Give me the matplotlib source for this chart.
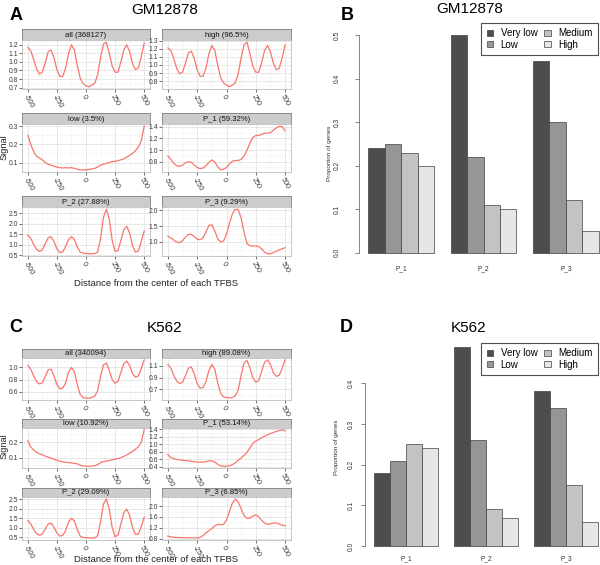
import numpy as np
import matplotlib
matplotlib.use('Agg')
import matplotlib.pyplot as plt
from matplotlib.patches import Patch
from matplotlib.ticker import FormatStrFormatter

plt.rcParams['font.family'] = ['Liberation Sans', 'DejaVu Sans']
plt.rcParams['axes.unicode_minus'] = False

# ---------------- data ----------------
positions = [-500, -475, -450, -425, -400, -375, -350, -325, -300, -275, -250,
             -225, -200, -175, -150, -125, -100, -75, -50, -25, 0,
             25, 50, 75, 100, 125, 150, 175, 200, 225, 250,
             275, 300, 325, 350, 375, 400, 425, 450, 475, 500]
x_tick_values = [-500, -250, 0, 250, 500]

gm_all = [1.17, 1.13, 1.03, 0.92, 0.86, 0.88, 0.99, 1.12, 1.14, 1.05, 0.91,
          0.83, 0.83, 0.93, 1.10, 1.20, 1.14, 0.96, 0.81, 0.75, 0.72,
          0.71, 0.73, 0.75, 0.85, 1.05, 1.21, 1.23, 1.10, 0.95, 0.88,
          0.88, 1.00, 1.14, 1.20, 1.12, 0.98, 0.91, 0.93, 1.06, 1.22]
gm_high = [1.21, 1.18, 1.08, 0.96, 0.89, 0.91, 1.02, 1.15, 1.17, 1.08, 0.94,
           0.86, 0.86, 0.96, 1.14, 1.24, 1.18, 1.00, 0.84, 0.78, 0.75,
           0.73, 0.75, 0.78, 0.89, 1.09, 1.25, 1.28, 1.14, 0.98, 0.91,
           0.91, 1.03, 1.18, 1.24, 1.16, 1.02, 0.94, 0.96, 1.09, 1.25]
gm_low = [0.25, 0.20, 0.16, 0.135, 0.125, 0.115, 0.10, 0.09, 0.085, 0.08, 0.075,
          0.072, 0.07, 0.072, 0.07, 0.072, 0.068, 0.063, 0.06, 0.06, 0.06,
          0.062, 0.065, 0.068, 0.075, 0.085, 0.092, 0.095, 0.10, 0.105, 0.107,
          0.11, 0.115, 0.12, 0.13, 0.14, 0.15, 0.165, 0.185, 0.22, 0.30]
gm_p1 = [0.90, 0.84, 0.77, 0.73, 0.72, 0.74, 0.78, 0.80, 0.79, 0.74, 0.70,
         0.68, 0.69, 0.73, 0.79, 0.83, 0.80, 0.71, 0.66, 0.67, 0.70,
         0.76, 0.81, 0.82, 0.82, 0.84, 0.90, 1.00, 1.12, 1.22, 1.25,
         1.25, 1.27, 1.29, 1.29, 1.30, 1.34, 1.38, 1.41, 1.40, 1.33]
gm_p2 = [1.45, 1.30, 1.02, 0.78, 0.68, 0.75, 1.05, 1.33, 1.38, 1.15, 0.80,
         0.63, 0.66, 0.92, 1.25, 1.38, 1.25, 0.90, 0.65, 0.60, 0.58,
         0.57, 0.57, 0.58, 0.65, 1.30, 2.30, 2.68, 2.20, 1.20, 0.68,
         0.72, 1.20, 1.70, 1.88, 1.55, 0.95, 0.65, 0.70, 1.15, 1.65]
gm_p3 = [1.18, 1.13, 1.06, 1.00, 0.98, 1.04, 1.15, 1.24, 1.24, 1.17, 1.09,
         1.07, 1.13, 1.32, 1.52, 1.54, 1.35, 1.10, 1.00, 1.03, 1.25,
         1.58, 1.88, 2.03, 2.02, 1.75, 1.30, 0.95, 0.88, 0.87, 0.88,
         0.86, 0.78, 0.68, 0.63, 0.63, 0.67, 0.71, 0.75, 0.79, 0.82]

k_all = [1.03, 0.97, 0.86, 0.77, 0.73, 0.75, 0.85, 0.96, 0.97, 0.86, 0.72,
         0.65, 0.66, 0.75, 0.92, 1.00, 0.93, 0.72, 0.56, 0.51, 0.50,
         0.50, 0.51, 0.53, 0.62, 0.85, 1.04, 1.07, 0.95, 0.80, 0.74,
         0.77, 0.92, 1.06, 1.10, 1.03, 0.90, 0.84, 0.86, 0.98, 1.12]
k_high = [1.12, 1.06, 0.94, 0.84, 0.80, 0.82, 0.93, 1.06, 1.08, 0.96, 0.80,
          0.72, 0.73, 0.83, 1.02, 1.12, 1.04, 0.81, 0.63, 0.57, 0.56,
          0.55, 0.56, 0.59, 0.69, 0.94, 1.15, 1.19, 1.06, 0.89, 0.82,
          0.85, 1.01, 1.16, 1.20, 1.12, 0.98, 0.92, 0.94, 1.06, 1.20]
k_low = [0.21, 0.17, 0.15, 0.135, 0.125, 0.118, 0.11, 0.103, 0.097, 0.09, 0.083,
         0.077, 0.073, 0.07, 0.068, 0.066, 0.064, 0.06, 0.052, 0.046, 0.045,
         0.045, 0.046, 0.048, 0.055, 0.068, 0.075, 0.078, 0.082, 0.086, 0.09,
         0.095, 0.10, 0.108, 0.118, 0.13, 0.14, 0.155, 0.17, 0.20, 0.28]
k_p1 = [0.72, 0.64, 0.61, 0.59, 0.58, 0.57, 0.56, 0.55, 0.54, 0.53, 0.52,
        0.52, 0.52, 0.53, 0.55, 0.55, 0.52, 0.46, 0.42, 0.41, 0.41,
        0.42, 0.45, 0.50, 0.57, 0.63, 0.70, 0.78, 0.90, 1.02, 1.08,
        1.12, 1.17, 1.21, 1.25, 1.28, 1.31, 1.34, 1.36, 1.38, 1.35]
k_p2 = [1.38, 1.20, 0.90, 0.68, 0.60, 0.66, 0.93, 1.20, 1.24, 1.02, 0.72,
        0.56, 0.58, 0.85, 1.30, 1.50, 1.35, 0.90, 0.55, 0.48, 0.47,
        0.46, 0.45, 0.46, 0.58, 1.30, 2.25, 2.52, 2.00, 1.00, 0.52,
        0.60, 1.20, 1.80, 1.98, 1.65, 1.00, 0.64, 0.66, 1.05, 1.55]
k_p3 = [0.90, 0.87, 0.86, 0.85, 0.85, 0.845, 0.84, 0.84, 0.84, 0.835, 0.83,
        0.85, 0.92, 1.02, 1.10, 1.18, 1.27, 1.33, 1.32, 1.33, 1.50,
        1.80, 2.10, 2.26, 2.15, 1.90, 1.65, 1.55, 1.56, 1.64, 1.68,
        1.60, 1.48, 1.38, 1.33, 1.35, 1.38, 1.38, 1.34, 1.30, 1.28]

gm_labels = ['all (368127)', 'high (96.5%)', 'low (3.5%)',
             'P_1 (59.32%)', 'P_2 (27.88%)', 'P_3 (9.29%)']
k_labels = ['all (340094)', 'high (89.08%)', 'low (10.92%)',
            'P_1 (53.14%)', 'P_2 (29.09%)', 'P_3 (6.85%)']
gm_yticks = [[0.7, 0.8, 0.9, 1.0, 1.1, 1.2], [0.8, 0.9, 1.0, 1.1, 1.2, 1.3],
             [0.1, 0.2, 0.3], [0.8, 1.0, 1.2, 1.4],
             [0.5, 1.0, 1.5, 2.0, 2.5], [1.0, 1.5, 2.0]]
k_yticks = [[0.6, 0.8, 1.0], [0.7, 0.9, 1.1], [0.1, 0.2],
            [0.4, 0.6, 0.8, 1.0, 1.2, 1.4], [0.5, 1.0, 1.5, 2.0, 2.5],
            [0.8, 1.2, 1.6, 2.0]]

groups = ['P_1', 'P_2', 'P_3']
levels = ['Very low', 'Low', 'Medium', 'High']
level_colors = ['#4D4D4D', '#969696', '#C3C3C3', '#E6E6E6']
gm_prop = {'Very low': [0.24, 0.50, 0.44],
           'Low':      [0.25, 0.22, 0.30],
           'Medium':   [0.23, 0.11, 0.12],
           'High':     [0.20, 0.10, 0.05]}
k_prop = {'Very low': [0.18, 0.49, 0.38],
          'Low':      [0.21, 0.26, 0.34],
          'Medium':   [0.25, 0.09, 0.15],
          'High':     [0.24, 0.07, 0.06]}

# ---------------- layout helpers ----------------
W, H = 600, 565
fig = plt.figure(figsize=(6, 5.65), dpi=100)


def box(x0, y0, x1, y1):
    return [x0 / W, 1 - y1 / H, (x1 - x0) / W, (y1 - y0) / H]


def facet(x0, x1, strip_top, plot_top, plot_bottom, label, values, yticks):
    sax = fig.add_axes(box(x0, strip_top, x1, plot_top))
    sax.set_facecolor('#CCCCCC')
    sax.set_xticks([]); sax.set_yticks([])
    for s in sax.spines.values():
        s.set_color('#7F7F7F'); s.set_linewidth(0.6)
    sax.text(0.5, 0.45, label, ha='center', va='center', fontsize=5.6,
             color='#111111', transform=sax.transAxes)

    ax = fig.add_axes(box(x0, plot_top, x1, plot_bottom))
    ax.plot(positions, values, color='#F8766D', lw=0.9)
    ax.margins(x=0.05, y=0.05)
    ax.set_xticks(x_tick_values)
    ax.set_xticklabels([str(v) for v in x_tick_values], rotation=-60,
                       ha='left', va='top', rotation_mode='anchor')
    ax.set_xticks([-375, -125, 125, 375], minor=True)
    ax.set_yticks(yticks)
    lo, hi = ax.get_ylim()
    step = yticks[1] - yticks[0]
    minors = [t + step / 2 for t in [yticks[0] - step] + list(yticks)]
    minors = [m for m in minors if lo < m < hi]
    ax.set_yticks(minors, minor=True)
    ax.yaxis.set_major_formatter(FormatStrFormatter('%.1f'))
    ax.grid(which='major', color='#E3E3E3', lw=0.6)
    ax.grid(which='minor', color='#F2F2F2', lw=0.4)
    ax.set_axisbelow(True)
    ax.tick_params(axis='x', which='major', length=2, width=0.5,
                   color='#333333', labelsize=5.2, labelcolor='#3A3A3A', pad=1)
    ax.tick_params(axis='y', which='major', length=2, width=0.5,
                   color='#333333', labelsize=4.9, labelcolor='#3A3A3A', pad=0.8)
    ax.tick_params(which='minor', length=0)
    for s in ax.spines.values():
        s.set_color('#B0B0B0'); s.set_linewidth(0.5)
    return ax


def facet_block(rows, labels, series, yticks_list):
    cols = [(22, 150), (162, 291)]
    k = 0
    for (st, pt, pb) in rows:
        for (x0, x1) in cols:
            facet(x0, x1, st, pt, pb, labels[k], series[k], yticks_list[k])
            k += 1


def bar_panel(axbox, props, yticks, ytick_pad, xtick_pad):
    ax = fig.add_axes(axbox)
    bw = 1.0
    for j, lev in enumerate(levels):
        xs = [1.5 + g * 5 + j for g in range(len(groups))]
        ax.bar(xs, props[lev], width=bw, color=level_colors[j],
               edgecolor='#404040', lw=0.5)
    ax.set_xlim(0.44, 15.56)
    top = max(max(v) for v in props.values())
    ax.set_ylim(-0.04 * top, 1.04 * top)
    ax.set_xticks([3, 8, 13])
    ax.set_xticklabels(groups)
    ax.set_yticks(yticks)
    ax.yaxis.set_major_formatter(FormatStrFormatter('%.1f'))
    for lab in ax.get_yticklabels():
        lab.set_rotation(90)
        lab.set_va('center')
    ax.tick_params(axis='y', length=3, width=0.5, color='#555555',
                   labelsize=4.8, labelcolor='#333333', pad=ytick_pad)
    ax.tick_params(axis='x', length=0, labelsize=4.8, labelcolor='#333333',
                   pad=xtick_pad)
    for name in ['top', 'right', 'bottom']:
        ax.spines[name].set_visible(False)
    ax.spines['left'].set_bounds(yticks[0], yticks[-1])
    ax.spines['left'].set_color('#555555')
    ax.spines['left'].set_linewidth(0.5)
    ax.patch.set_alpha(0)
    return ax


def legend_at(x_right, y_top):
    handles = [Patch(facecolor=c, edgecolor='#404040', lw=0.5)
               for c in level_colors]
    leg = fig.legend(handles, levels, ncol=2, loc='upper right',
                     bbox_to_anchor=(x_right / W, 1 - y_top / H),
                     fontsize=7.0, frameon=True, fancybox=False,
                     edgecolor='#222222', borderpad=0.55, labelspacing=0.12,
                     columnspacing=0.7, handlelength=0.65, handleheight=0.65,
                     handletextpad=0.8, borderaxespad=0)
    leg.get_frame().set_linewidth(0.8)


# ---------------- Panel A ----------------
fig.text(16 / W, 1 - 15 / H, 'A', fontsize=13, fontweight='bold',
         ha='center', va='center')
fig.text(165 / W, 1 - 10 / H, 'GM12878', fontsize=11, ha='center', va='center')
facet_block([(29, 40, 89), (113, 124, 172), (196, 207, 256)],
            gm_labels, [gm_all, gm_high, gm_low, gm_p1, gm_p2, gm_p3],
            gm_yticks)
fig.text(156 / W, 1 - 283 / H, 'Distance from the center of each TFBS',
         fontsize=6.8, ha='center', va='center', color='#222222')
fig.text(4 / W, 1 - 147 / H, 'Signal', fontsize=6.6, rotation=90,
         ha='center', va='center', color='#222222')

# ---------------- Panel C ----------------
fig.text(16 / W, 1 - 328 / H, 'C', fontsize=13, fontweight='bold',
         ha='center', va='center')
fig.text(165 / W, 1 - 328 / H, 'K562', fontsize=11, ha='center', va='center')
facet_block([(349, 358, 400), (419, 428, 468), (488, 497, 540)],
            k_labels, [k_all, k_high, k_low, k_p1, k_p2, k_p3], k_yticks)
fig.text(156 / W, 1 - 560 / H, 'Distance from the center of each TFBS',
         fontsize=6.8, ha='center', va='center', color='#222222')
fig.text(4 / W, 1 - 446 / H, 'Signal', fontsize=6.6, rotation=90,
         ha='center', va='center', color='#222222')

# ---------------- Panel B ----------------
fig.text(347 / W, 1 - 15 / H, 'B', fontsize=13, fontweight='bold',
         ha='center', va='center')
fig.text(470 / W, 1 - 9 / H, 'GM12878', fontsize=11, ha='center', va='center')
bar_panel(box(358.8, 26.3, 608.2, 261.4), gm_prop,
          [0.0, 0.1, 0.2, 0.3, 0.4, 0.5], ytick_pad=10, xtick_pad=2.5)
fig.text(329.5 / W, 1 - 153 / H, 'Proportion of genes', fontsize=4.6,
         rotation=90, ha='center', va='center', color='#333333')
legend_at(598, 23)

# ---------------- Panel D ----------------
fig.text(346 / W, 1 - 328 / H, 'D', fontsize=13, fontweight='bold',
         ha='center', va='center')
fig.text(469 / W, 1 - 328 / H, 'K562', fontsize=11, ha='center', va='center')
bar_panel(box(365, 338.7, 607, 554), k_prop,
          [0.0, 0.1, 0.2, 0.3, 0.4], ytick_pad=4.5, xtick_pad=1)
fig.text(336.5 / W, 1 - 447 / H, 'Proportion of genes', fontsize=4.6,
         rotation=90, ha='center', va='center', color='#333333')
legend_at(598, 343)

fig.savefig('out.png', dpi=100)
